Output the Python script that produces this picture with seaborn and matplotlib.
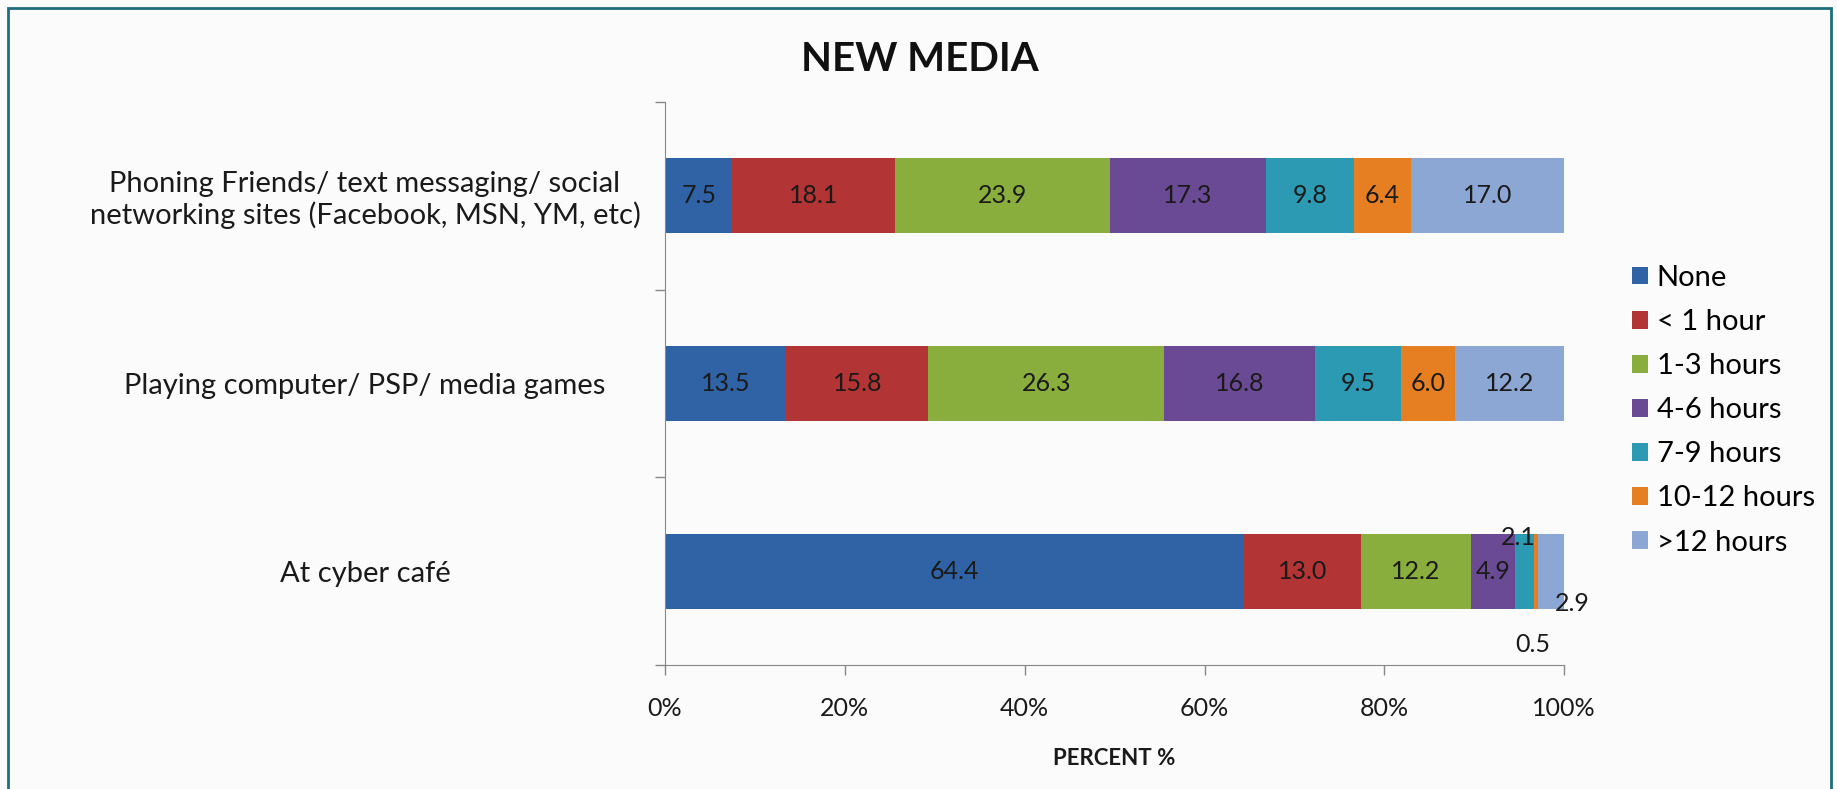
import numpy as np
import pandas as pd
import matplotlib
matplotlib.use("Agg")
import matplotlib.pyplot as plt
import seaborn as sns
from matplotlib.patches import Rectangle, Patch
from matplotlib.ticker import FuncFormatter, FixedLocator

# 数据
activities = ["Phoning Friends/ text messaging/ social\nnetworking sites (Facebook, MSN, YM, etc)",
              "Playing computer/ PSP/ media games",
              "At cyber café"]
durations = ["None", "< 1 hour", "1-3 hours", "4-6 hours", "7-9 hours", "10-12 hours", ">12 hours"]
none_vals = [7.5, 13.5, 64.4]
lt1_vals = [18.1, 15.8, 13.0]
h1_3_vals = [23.9, 26.3, 12.2]
h4_6_vals = [17.3, 16.8, 4.9]
h7_9_vals = [9.8, 9.5, 2.1]
h10_12_vals = [6.4, 6.0, 0.5]
gt12_vals = [17.0, 12.2, 2.9]

colors = ["#2F63A6", "#B23434", "#8AAE3E", "#6A4A94", "#2C9AB3", "#E67E22", "#8DA7D4"]

df = pd.DataFrame({"activity": activities, "None": none_vals, "< 1 hour": lt1_vals,
                   "1-3 hours": h1_3_vals, "4-6 hours": h4_6_vals, "7-9 hours": h7_9_vals,
                   "10-12 hours": h10_12_vals, ">12 hours": gt12_vals})
vals = df[durations].values
# 按百分比归一化
pct = vals / vals.sum(axis=1, keepdims=True) * 100
cum = np.cumsum(pct, axis=1)

plt.rcParams['font.family'] = ['Lato', 'DejaVu Sans']
fig = plt.figure(figsize=(18.37, 7.89), dpi=100, facecolor="#FBFBFB")
ax = fig.add_axes([0.362, 0.157, 0.4895, 0.714])
ax.set_facecolor("none")

# 堆叠条形图：从最右侧的累积值开始往回画
for k in range(len(durations) - 1, -1, -1):
    plot_df = pd.DataFrame({"activity": activities, "x": cum[:, k]})
    sns.barplot(data=plot_df, y="activity", x="x", orient="h", color=colors[k],
                width=0.40, saturation=1, ax=ax, linewidth=0, zorder=2)

# 数值标签
fs = 18
for i in range(len(activities)):
    for k in range(len(durations)):
        center = cum[i, k] - pct[i, k] / 2
        txt = f"{vals[i, k]:.1f}"
        if i == 2 and durations[k] == "7-9 hours":
            ax.text(center - 0.6, i - 0.18, txt, ha="center", va="center", fontsize=fs, color="#1a1a1a")
        elif i == 2 and durations[k] == "10-12 hours":
            ax.text(center - 0.3, i + 0.39, txt, ha="center", va="center", fontsize=fs, color="#1a1a1a")
        elif i == 2 and durations[k] == ">12 hours":
            ax.text(center + 2.4, i + 0.17, txt, ha="center", va="center", fontsize=fs, color="#1a1a1a")
        else:
            ax.text(center, i, txt, ha="center", va="center", fontsize=fs, color="#1a1a1a")

ax.set_xlim(0, 100)
ax.set_ylim(2.5, -0.5)
ax.xaxis.set_major_locator(FixedLocator([0, 20, 40, 60, 80, 100]))
ax.xaxis.set_major_formatter(FuncFormatter(lambda x, _: f"{int(x)}%"))
ax.tick_params(axis="x", labelsize=18, length=7, width=1, color="#888888", pad=16, labelcolor="#1a1a1a")
ax.tick_params(axis="y", which="major", length=0, labelsize=21, labelcolor="#1a1a1a")
ax.yaxis.set_minor_locator(FixedLocator([-0.5, 0.5, 1.5, 2.5]))
ax.tick_params(axis="y", which="minor", length=7, width=1, color="#888888")
for lbl in ax.get_yticklabels():
    lbl.set_horizontalalignment("center")
    lbl.set_multialignment("center")
ax.yaxis.set_tick_params(pad=216)
ax.set_ylabel("")
ax.set_xlabel("PERCENT %", fontsize=16, fontweight="bold", labelpad=20, color="#1a1a1a")
ax.spines["top"].set_visible(False)
ax.spines["right"].set_visible(False)
ax.spines["left"].set_color("#888888")
ax.spines["bottom"].set_color("#888888")

fig.text(0.501, 0.925, "NEW MEDIA", ha="center", va="center", fontsize=29, fontweight="bold", color="#111111")

handles = [Patch(facecolor=c, label=d) for c, d in zip(colors, durations)]
fig.legend(handles=handles, loc="center left", bbox_to_anchor=(0.874, 0.48), frameon=False,
           fontsize=21, handlelength=0.55, handleheight=0.55, handletextpad=0.3, labelspacing=0.62)

# 外边框
fig.patches.append(Rectangle((0.0045, -0.01), 0.9925, 1.0, transform=fig.transFigure,
                             fill=False, edgecolor="#1F6E7E", linewidth=2))

fig.savefig("out.png", dpi=100, facecolor=fig.get_facecolor())
